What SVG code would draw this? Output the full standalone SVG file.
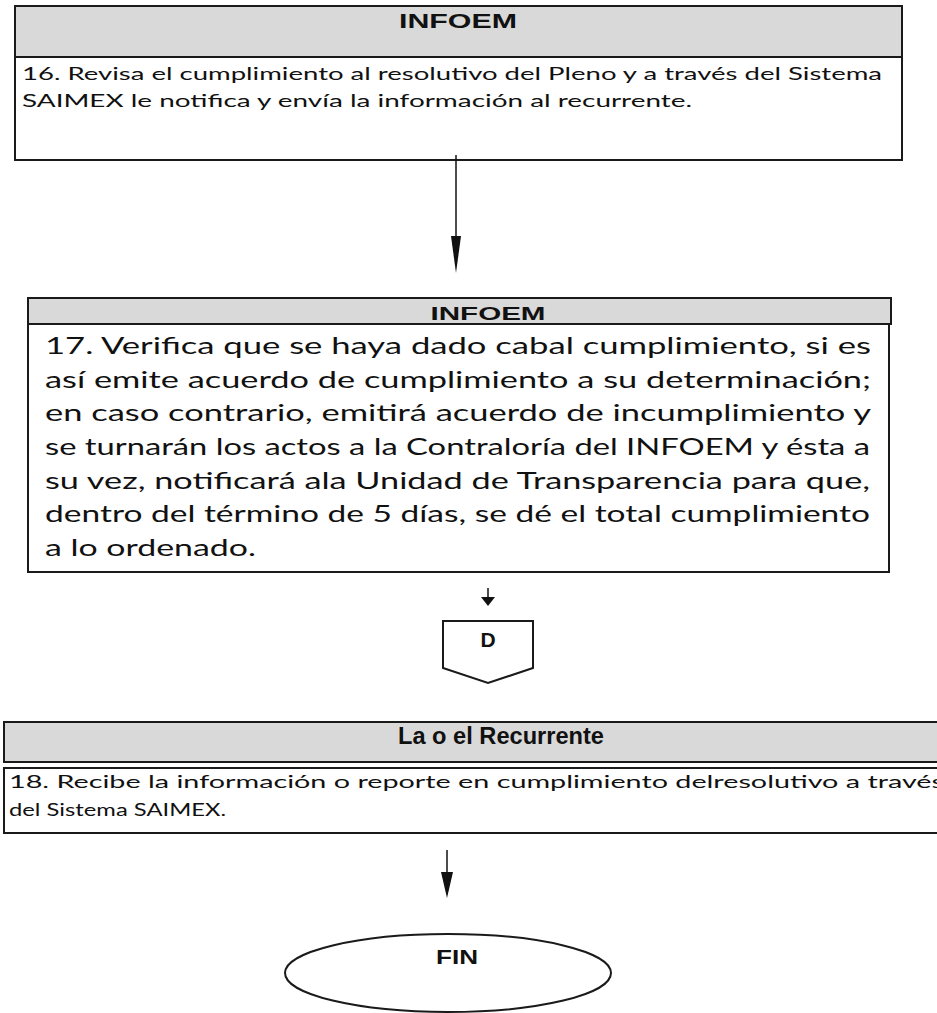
<svg xmlns="http://www.w3.org/2000/svg" width="937" height="1013" viewBox="0 0 937 1013">
<style>
.box{fill:#fff;stroke:#1a1a1a;stroke-width:2}
.hdr{fill:#d9d9d9;stroke:#1a1a1a;stroke-width:2}
.ttl{font-family:"Liberation Sans",Arial,sans-serif;font-weight:bold;fill:#111}
.body{font-family:Lato,"Noto Sans","Liberation Sans",sans-serif;fill:#111}
.ln{stroke:#111;stroke-width:1.5;fill:none}
.hd{fill:#111}
</style>
<rect width="937" height="1013" fill="#fff"/>
<g id="node16">
<rect class="hdr" x="15" y="6" width="887" height="51"/>
<rect class="box" x="15" y="57" width="887" height="103"/>
<text class="ttl" x="458" y="28" font-size="21" text-anchor="middle" textLength="118" lengthAdjust="spacingAndGlyphs">INFOEM</text>
<text class="body" x="22" y="80" font-size="18" textLength="860" lengthAdjust="spacingAndGlyphs">16. Revisa el cumplimiento  al resolutivo  del Pleno  y a través  del Sistema</text>
<text class="body" x="22" y="107" font-size="18" textLength="670" lengthAdjust="spacingAndGlyphs">SAIMEX le notifica y envía la información al recurrente.</text>
</g>
<g id="node17">
<rect class="hdr" x="28" y="298" width="863" height="26"/>
<rect class="box" x="28" y="324" width="861" height="248"/>
<text class="ttl" x="488" y="320" font-size="19" text-anchor="middle" textLength="115" lengthAdjust="spacingAndGlyphs">INFOEM</text>
<g class="body" font-size="24">
<text x="45" y="354" textLength="826" lengthAdjust="spacingAndGlyphs">17. Verifica que se haya dado cabal cumplimiento, si es</text>
<text x="45" y="388" textLength="826" lengthAdjust="spacingAndGlyphs">así emite acuerdo de cumplimiento a su determinación;</text>
<text x="45" y="421" textLength="826" lengthAdjust="spacingAndGlyphs">en caso contrario, emitirá acuerdo de incumplimiento y</text>
<text x="45" y="455" textLength="825" lengthAdjust="spacingAndGlyphs">se turnarán los actos a la Contraloría del INFOEM y ésta a</text>
<text x="45" y="489" textLength="825" lengthAdjust="spacingAndGlyphs">su vez, notificará ala Unidad de Transparencia para que,</text>
<text x="45" y="522" textLength="825" lengthAdjust="spacingAndGlyphs">dentro del término de 5 días, se dé el total cumplimiento</text>
<text x="45" y="556" textLength="211" lengthAdjust="spacingAndGlyphs">a lo ordenado.</text>
</g>
</g>
<g id="nodeD">
<polygon class="box" points="443,621 533,621 533,668 488,683 443,668"/>
<text class="ttl" x="488" y="647" font-size="21" text-anchor="middle">D</text>
</g>
<g id="node18">
<rect class="hdr" x="4" y="722" width="945" height="40"/>
<rect class="box" x="4" y="768" width="945" height="65"/>
<text class="ttl" x="501" y="744" font-size="23" text-anchor="middle" textLength="206" lengthAdjust="spacingAndGlyphs">La o el Recurrente</text>
<text class="body" x="9" y="788" font-size="18" textLength="935" lengthAdjust="spacingAndGlyphs">18. Recibe la información o reporte en cumplimiento delresolutivo a través</text>
<text class="body" x="9" y="816" font-size="18" textLength="217" lengthAdjust="spacingAndGlyphs">del Sistema SAIMEX.</text>
</g>
<g id="nodeFIN">
<ellipse class="box" cx="448" cy="973" rx="163" ry="39" stroke-width="1.5"/>
<text class="ttl" x="457" y="964" font-size="20" text-anchor="middle" textLength="42" lengthAdjust="spacingAndGlyphs">FIN</text>
</g>
<g id="connectors">
<line class="ln" x1="456" y1="155" x2="456" y2="240"/>
<polygon class="hd" points="451,236 461,236 456,273"/>
<line class="ln" x1="488" y1="588" x2="488" y2="598"/>
<polygon class="hd" points="481,597 495,597 488,606"/>
<line class="ln" x1="447" y1="850" x2="447" y2="876"/>
<polygon class="hd" points="441,872 453,872 447,898"/>
</g>
</svg>
